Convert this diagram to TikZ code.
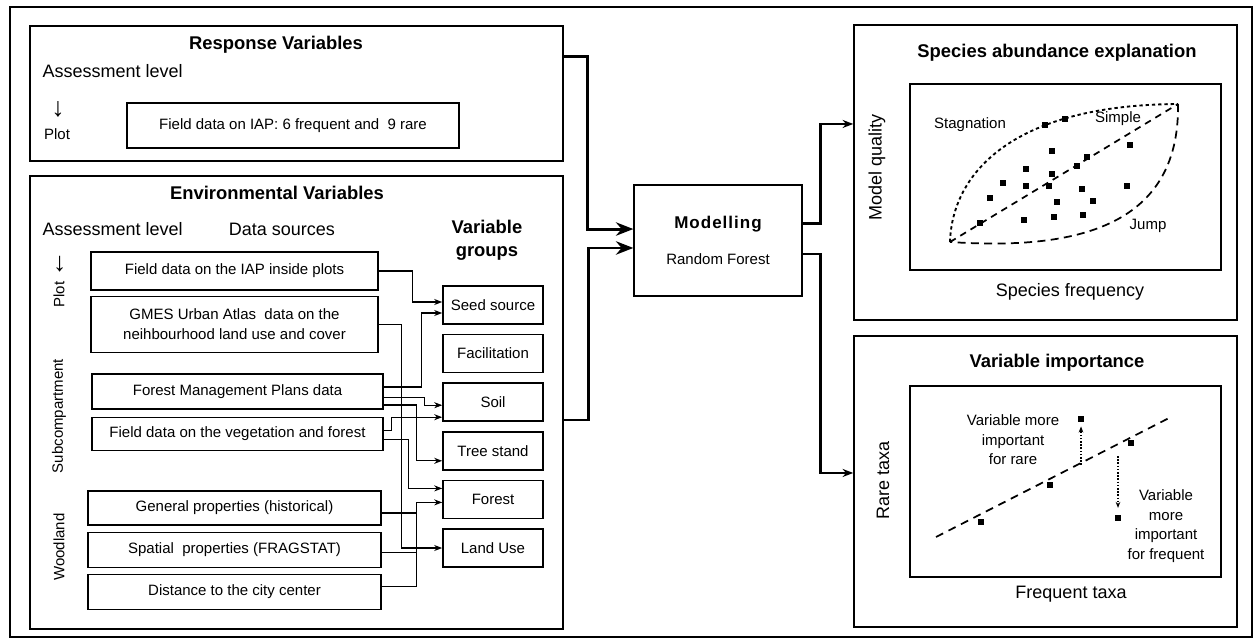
\documentclass[tikz,border=0pt]{standalone}
\usepackage{fontspec}
\setmainfont{Liberation Sans}
\usetikzlibrary{arrows.meta, positioning}

\newcommand{\fsmall}{\fontsize{11.25}{14.6}\selectfont}
\newcommand{\flarge}{\fontsize{13.5}{17.25}\selectfont}
\newcommand{\ftitle}{\fontsize{13.8}{17.25}\selectfont\bfseries}
\newcommand{\farrow}{\fontsize{20}{20}\selectfont}

\begin{document}
\begin{tikzpicture}[
  x=0.75pt, y=-0.75pt,
  node distance=6.75pt,
  panel/.style={draw, line width=1.1pt, inner sep=0pt},
  srcbox/.style={draw, line width=0.9pt, inner sep=0pt, align=center, font=\fsmall},
  grpbox/.style={draw, line width=1.2pt, inner sep=0pt, minimum width=75pt,
                 minimum height=28.5pt, font=\fsmall},
  plotbox/.style={draw, line width=1.8pt, inner sep=0pt,
                  minimum width=233.25pt},
  title/.style={font=\ftitle, align=center},
  lbl/.style={font=\flarge},
  level/.style={font=\fsmall, rotate=90},
  note/.style={font=\fsmall, align=center},
  sqdot/.style={fill, minimum size=4.8pt, inner sep=0pt},
  link/.style={-{Stealth[length=6pt,width=4.5pt]}, line width=1pt},
  thinlink/.style={-{Stealth[length=6pt,width=4.5pt]}, line width=0.45pt},
  wire/.style={line width=1pt},
  bigarrow/.style={-{Stealth[length=13pt,width=10pt]}, line width=2.2pt},
  outarrow/.style={-{Stealth[length=8pt,width=6pt]}, line width=2.2pt},
  dotarrow/.style={-{Stealth[length=4.5pt,width=3.5pt]}, line width=0.8pt,
                   dash pattern=on 1.2pt off 1.2pt}
]
  \useasboundingbox (0,0) rectangle (1259,643);
  \draw[line width=1pt] (10,7) rectangle (1252,637);

  % response side
  \node (resp) [panel, minimum width=399.75pt, minimum height=101.25pt] at (296.5,93.5) {};
  \node (resptitle) [title] at (276,45) {Response Variables};
  \node (resplevel) [lbl, anchor=west] at (38,71) {Assessment level};
  \node (resparrow) [font=\farrow] at (58,109) {↓};
  \node (respplot) [font=\fsmall] at (57,134) {Plot};
  \node (iapfield) [srcbox, minimum width=249pt, minimum height=33.75pt] at (293,125.5)
    {Field data on IAP: 6 frequent and\ \ 9 rare};

  % environmental side
  \node (env) [panel, minimum width=399.75pt, minimum height=339.75pt] at (296.5,402.5) {};
  \node (envtitle) [title] at (277,193) {Environmental Variables};
  \node (envlevel) [lbl, anchor=west] at (38,229) {Assessment level};
  \node (sources) [lbl] at (282,229) {Data sources};
  \node (groups) [title] at (487,240) {Variable\\groups};

  \node (lvplot) [level] at (59,279) {Plot {\farrow ←}};
  \node (lvsub)  [level] at (59,416) {Subcompartment};
  \node (lvwood) [level] at (59,547) {Woodland};

  \node (iap)  [srcbox, minimum width=215.25pt, minimum height=28.5pt] at (234.5,271)
    {Field data on the IAP inside plots};
  \node (gmes) [srcbox, minimum width=215.25pt, minimum height=42pt, below=3.75pt of iap]
    {GMES Urban Atlas\ \ data on the\\neihbourhood land use and cover};
  \node (fmp)  [srcbox, minimum width=218.25pt, minimum height=26.25pt] at (237.5,391.5)
    {Forest Management Plans data};
  \node (veg)  [srcbox, minimum width=218.25pt, minimum height=24.75pt, below=5.25pt of fmp]
    {Field data on the vegetation and forest};
  \node (gen)  [srcbox, minimum width=219.75pt, minimum height=25.5pt] at (234.5,508)
    {General properties (historical)};
  \node (spat) [srcbox, minimum width=219.75pt, minimum height=26.25pt, below=4.5pt of gen]
    {Spatial\ \ properties (FRAGSTAT)};
  \node (dist) [srcbox, minimum width=219.75pt, minimum height=26.25pt, below=4.5pt of spat]
    {Distance to the city center};

  \node (seed)   [grpbox] at (493,305) {Seed source};
  \node (facil)  [grpbox, below=of seed]  {Facilitation};
  \node (soil)   [grpbox, below=of facil] {Soil};
  \node (tree)   [grpbox, below=of soil]  {Tree stand};
  \node (forest) [grpbox, below=of tree]  {Forest};
  \node (land)   [grpbox, below=of forest]{Land Use};

  % data sources -> variable groups
  \draw[link] (iap.east) -- ++(34,0) |- ([yshift=2.25pt]seed.west);
  \draw[link] ([yshift=3.4pt]fmp.east) -- ++(38,0) |- ([yshift=-6pt]seed.west);
  \draw[link] (gmes.east) -- ++(23,0) |- (land.west);
  \draw[thinlink] ([yshift=-4.1pt]fmp.east) -- ++(41,0) |- ([yshift=-2.25pt]soil.west);
  \draw[link] ([yshift=-10.1pt]fmp.east) -- ++(33,0) |- ([yshift=-7.5pt]tree.west);
  \draw[link] ([yshift=2.6pt]veg.east) -- ++(8,0) |- ([yshift=-11.25pt]soil.west);
  \draw[link] ([yshift=-4.1pt]veg.east) -- ++(25,0) |- ([yshift=8.25pt]forest.west);
  \draw[wire] ([yshift=-3.75pt]gen.east) -- ++(35,0);
  \draw[wire] ([yshift=-1.9pt]spat.east) -- ++(35,0);
  \draw[link] ([yshift=4.1pt]dist.east) -- ++(35,0) |- ([yshift=-2.25pt]forest.west);

  % model
  \node (model) [panel, line width=1pt, minimum width=126pt, minimum height=83.25pt,
                 align=center, font=\fsmall] at (718,240.5)
    {{\fontsize{12.75}{15}\selectfont\bfseries\addfontfeature{LetterSpace=6}Modelling}\\[13pt]Random Forest};

  \draw[bigarrow] ([yshift=-23.25pt]resp.north east) -- ++(24,0) |- ([yshift=8.6pt]model.west);
  \draw[bigarrow] ([yshift=-13.1pt]env.east) -- ++(25,0) |- ([yshift=-5.6pt]model.west);

  % outputs
  \node (species) [panel, minimum width=287.25pt, minimum height=221.25pt] at (1045.5,172.5) {};
  \node (imp)     [panel, minimum width=287.25pt, minimum height=218.25pt] at (1045.5,481.5) {};
  \draw[outarrow] ([yshift=13.1pt]model.east) -- ++(18,0) |- ([yshift=36.4pt]species.west);
  \draw[outarrow] ([yshift=-10.1pt]model.east) -- ++(18,0) |- ([yshift=6.4pt]imp.west);

  % species abundance plot
  \node (sptitle) [title] at (1057,53) {Species abundance explanation};
  \node (spplot) [plotbox, minimum height=139.5pt] at (1065.5,177) {};
  \node (spx) [lbl] at (1070,292) {Species frequency};
  \node (spy) [lbl, rotate=90] at (877,167) {Model quality};
  \coordinate (tipA) at (950,242);
  \coordinate (tipB) at (1178,104);
  \draw[line width=1.4pt, dash pattern=on 2.5pt off 2.2pt]
    (tipA) .. controls (952,175) and (1010,105) .. (tipB);
  \draw[line width=1.3pt, dash pattern=on 6pt off 4pt]
    (tipB) .. controls (1180,230) and (1070,250) .. (tipA);
  \draw[line width=1.3pt, dash pattern=on 5pt off 4pt] (tipA) -- (tipB);
  \foreach \px/\py [count=\i] in {1045/125, 1065/119, 1130/145, 1052/151, 1087/157,
      1077/166, 1026/169, 1052/174, 1003/183, 1026/186, 1049/186, 1127/186,
      1082/189, 990/198, 1057/202, 1093/201, 1024/220, 1054/217, 1083/215, 980/223}
    \node (s\i) [sqdot] at (\px,\py) {};
  \node (stag) [note] at (970,125) {Stagnation};
  \node (simp) [note] at (1118,119) {Simple};
  \node (jump) [note] at (1148,226) {Jump};

  % variable importance plot
  \node (imptitle) [title] at (1057,363) {Variable importance};
  \node (impplot) [plotbox, minimum height=143.25pt] at (1065.5,481.5) {};
  \node (impx) [lbl] at (1071,594) {Frequent taxa};
  \node (impy) [lbl, rotate=90] at (883,480) {Rare taxa};
  \draw[line width=1.3pt, dash pattern=on 6pt off 4.5pt] (936,537) -- (1171,417);
  \node (v1) [sqdot] at (981,522) {};
  \node (v2) [sqdot] at (1050,485) {};
  \node (v3) [sqdot] at (1131,443) {};
  \node (hi) [sqdot] at (1081,419) {};
  \node (lo) [sqdot] at (1118,518) {};
  \coordinate (upfrom) at (1081,465);
  \coordinate (downfrom) at (1118,456);
  \draw[dotarrow, shorten >=3pt] (upfrom) -- (hi);
  \draw[dotarrow, shorten >=5pt] (downfrom) -- (lo);
  \node (rarenote) [note] at (1013,440) {Variable more\\important\\for rare};
  \node (freqnote) [note] at (1166,526) {Variable\\more\\important\\for frequent};
\end{tikzpicture}
\end{document}
